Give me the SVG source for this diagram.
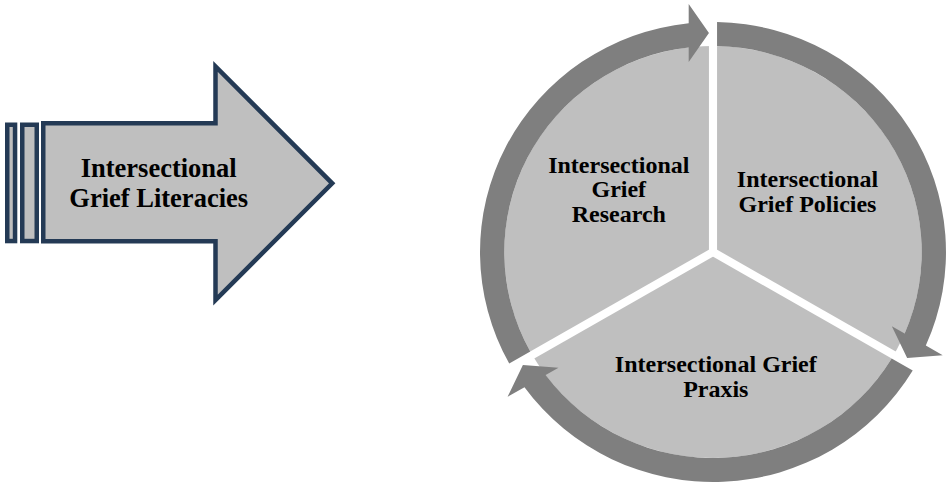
<svg xmlns="http://www.w3.org/2000/svg" width="950" height="485" viewBox="0 0 950 485">
  <style>
    .label { font-family: "Liberation Serif", "Times New Roman", serif; font-weight: bold; fill: #000; text-anchor: middle; }
    .big { font-size: 26.5px; }
    .small { font-size: 24px; }
    .frame { fill: #BFBFBF; stroke: #243A55; stroke-width: 4.5; stroke-linejoin: miter; stroke-miterlimit: 10; }
    .disc { fill: #BFBFBF; }
    .ring { fill: #7F7F7F; }
    .gap { stroke: #FFFFFF; stroke-width: 8; stroke-linecap: butt; }
  </style>
  <rect width="950" height="485" fill="#FFFFFF"/>

  <!-- Striped block arrow on the left -->
  <g id="literacies">
    <rect class="frame" x="7.25" y="124.75" width="7.8" height="116.3"/>
    <rect class="frame" x="22.25" y="124.75" width="14.5" height="116.3"/>
    <path class="frame" d="M43.25,123.25 H215.5 V66.5 L332.2,183.3 L215.5,300 V241.25 H43.25 Z"/>
    <text class="label big" x="158.7" y="177">Intersectional</text>
    <text class="label big" x="158.7" y="206.5">Grief Literacies</text>
  </g>

  <!-- Cycle: disc split in three sectors, ringed by three curved arrows -->
  <g transform="translate(713,252) scale(1.013,1)">
    <circle class="disc" cx="0" cy="0" r="206"/>
    <g id="sector-gaps">
      <line class="gap" x1="0" y1="0" x2="0" y2="-207"/>
      <line class="gap" x1="0" y1="0" x2="179.3" y2="103.5"/>
      <line class="gap" x1="0" y1="0" x2="-179.3" y2="103.5"/>
    </g>
    <g id="connectors">
      <!-- top gap to lower-right gap -->
      <path class="ring" d="M4,-229.97 A230,230 0 0 1 210.09,93.59 L226.77,103.22 L191.66,106.04 L176.54,74.22 L189.19,81.52 A206,206 0 0 0 4,-205.96 Z"/>
      <!-- lower-right gap to lower-left gap -->
      <path class="ring" d="M197.16,118.45 A230,230 0 0 1 -186.09,135.15 L-202.77,144.78 L-187.66,112.96 L-152.54,115.78 L-165.19,123.08 A206,206 0 0 0 176.37,106.44 Z"/>
      <!-- lower-left gap to top gap -->
      <path class="ring" d="M-201.16,111.53 A230,230 0 0 1 -24,-228.74 L-24,-248 L-4,-219 L-24,-190 L-24,-204.6 A206,206 0 0 0 -180.37,99.52 Z"/>
    </g>
  </g>

  <g id="research">
    <text class="label small" x="618.8" y="172.5">Intersectional</text>
    <text class="label small" x="618.8" y="197">Grief</text>
    <text class="label small" x="618.8" y="221.5">Research</text>
  </g>
  <g id="policies">
    <text class="label small" x="807.5" y="186.7">Intersectional</text>
    <text class="label small" x="807.5" y="211.7">Grief Policies</text>
  </g>
  <g id="praxis">
    <text class="label small" x="715.8" y="371.7">Intersectional Grief</text>
    <text class="label small" x="715.8" y="396.7">Praxis</text>
  </g>
</svg>
